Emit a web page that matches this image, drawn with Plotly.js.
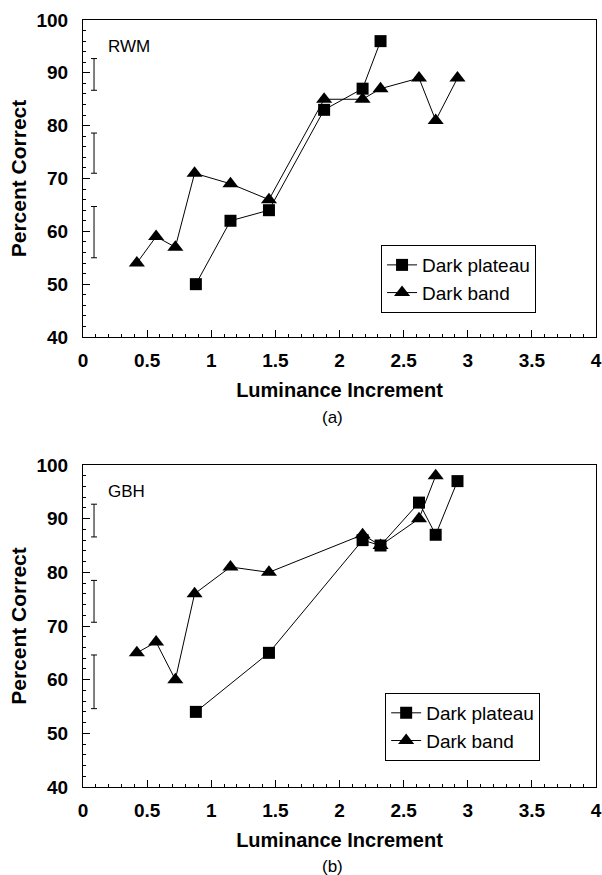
<!DOCTYPE html>
<html>
<head>
<meta charset="utf-8">
<script src="https://cdn.plot.ly/plotly-3.0.1.min.js"></script>
<style>html,body{margin:0;padding:0;background:#fff;}#chart{width:602px;height:875px;}</style>
</head>
<body>
<div id="chart"></div>
<script>
// ---- data ----
const seriesNames = ["Dark plateau", "Dark band"];

// panel (a) RWM
const rwmPlateauX = [0.88, 1.15, 1.45, 1.88, 2.18, 2.32];
const rwmPlateauY = [50, 62, 64, 83, 87, 96];
const rwmBandX = [0.42, 0.57, 0.72, 0.87, 1.15, 1.45, 1.88, 2.18, 2.32, 2.62, 2.75, 2.92];
const rwmBandY = [54, 59, 57, 71, 69, 66, 85, 85, 87, 89, 81, 89];

// panel (b) GBH
const gbhPlateauX = [0.88, 1.45, 2.18, 2.32, 2.62, 2.75, 2.92];
const gbhPlateauY = [54, 65, 86, 85, 93, 87, 97];
const gbhBandX = [0.42, 0.57, 0.72, 0.87, 1.15, 1.45, 2.18, 2.32, 2.62, 2.75];
const gbhBandY = [65, 67, 60, 76, 81, 80, 87, 85, 90, 98];

// representative error bars at left of each panel
const errX = [0.086, 0.086, 0.086];
const rwmErrCenter = [89.7, 74.8, 59.85];
const rwmErrHalf = [3.0, 3.8, 4.85];
const gbhErrCenter = [89.65, 74.6, 59.6];
const gbhErrHalf = [3.05, 3.9, 5.0];

const xTickVals = [0, 0.5, 1, 1.5, 2, 2.5, 3, 3.5, 4];
const xTickText = ["0", "0.5", "1", "1.5", "2", "2.5", "3", "3.5", "4"];
const yTickVals = [40, 50, 60, 70, 80, 90, 100];

const panelLabels = ["RWM", "GBH"];
const panelCaptions = ["(a)", "(b)"];
const xTitle = "Luminance Increment";
const yTitle = "Percent Correct";

// ---- styling ----
const FONT = "Liberation Sans, Arial, Helvetica, sans-serif";
const lineStyle = {color: "black", width: 1};

function seriesTrace(x, y, name, symbol, size, xa, ya, legend, show) {
  return {
    x: x, y: y, name: name, type: "scatter", mode: "lines+markers",
    line: lineStyle,
    marker: {symbol: symbol, size: size, color: "black", line: {width: 0}},
    xaxis: xa, yaxis: ya, legend: legend, showlegend: show
  };
}
function errTrace(center, half, xa, ya) {
  return {
    x: errX, y: center, type: "scatter", mode: "markers",
    marker: {size: 1, color: "rgba(0,0,0,0)"},
    error_y: {type: "data", array: half, visible: true, color: "black", thickness: 1, width: 3},
    xaxis: xa, yaxis: ya, showlegend: false, hoverinfo: "skip"
  };
}

const data = [
  errTrace(rwmErrCenter, rwmErrHalf, "x", "y"),
  seriesTrace(rwmPlateauX, rwmPlateauY, seriesNames[0], "square", 12, "x", "y", "legend", true),
  seriesTrace(rwmBandX, rwmBandY, seriesNames[1], "triangle-up", 14, "x", "y", "legend", true),
  errTrace(gbhErrCenter, gbhErrHalf, "x2", "y2"),
  seriesTrace(gbhPlateauX, gbhPlateauY, seriesNames[0], "square", 12, "x2", "y2", "legend2", true),
  seriesTrace(gbhBandX, gbhBandY, seriesNames[1], "triangle-up", 14, "x2", "y2", "legend2", true)
];

function xAxis(anchor) {
  return {
    anchor: anchor, domain: [0, 1], range: [0, 4],
    tickmode: "array", tickvals: xTickVals, ticktext: xTickText,
    ticks: "inside", ticklen: 7, tickwidth: 1, tickcolor: "black",
    minor: {dtick: 0.1, ticks: "inside", ticklen: 3, tickwidth: 1, tickcolor: "black", showgrid: false},
    showline: true, linecolor: "black", linewidth: 1, mirror: true,
    showgrid: false, zeroline: false,
    tickfont: {family: FONT, size: 19, weight: "bold", color: "black"},
    ticklabelstandoff: 6,
    title: {text: xTitle, standoff: 13, font: {family: FONT, size: 20, weight: "bold", color: "black"}}
  };
}
function yAxis(anchor, domain) {
  return {
    anchor: anchor, domain: domain, range: [40, 100],
    tickmode: "array", tickvals: yTickVals,
    ticks: "inside", ticklen: 7, tickwidth: 1, tickcolor: "black",
    minor: {dtick: 2, ticks: "inside", ticklen: 3, tickwidth: 1, tickcolor: "black", showgrid: false},
    showline: true, linecolor: "black", linewidth: 1, mirror: true,
    showgrid: false, zeroline: false,
    tickfont: {family: FONT, size: 19, weight: "bold", color: "black"},
    ticklabelstandoff: 10,
    title: {text: yTitle, standoff: 4, font: {family: FONT, size: 21, weight: "bold", color: "black"}}
  };
}
function legendBox(x, y) {
  return {
    x: x, y: y, xanchor: "left", yanchor: "top",
    bgcolor: "white", bordercolor: "black", borderwidth: 1,
    font: {family: FONT, size: 19, color: "black"},
    tracegroupgap: 0
  };
}
function ann(text, x, y, size, weight, xanchor) {
  return {text: text, x: x, y: y, xref: "paper", yref: "paper", showarrow: false,
    xanchor: xanchor, yanchor: "middle",
    font: {family: FONT, size: size, weight: weight, color: "black"}};
}

const layout = {
  width: 602, height: 875,
  margin: {l: 83, r: 6, t: 20, b: 88},
  paper_bgcolor: "white", plot_bgcolor: "white",
  xaxis: xAxis("y"),
  yaxis: yAxis("x", [0.5867, 1]),
  xaxis2: xAxis("y2"),
  yaxis2: yAxis("x2", [0, 0.4198]),
  legend: legendBox(0.581, 0.7066),
  legend2: legendBox(0.589, 0.1226),
  annotations: [
    ann(panelLabels[0], 0.0448, 0.9661, 17, "normal", "left"),
    ann(panelLabels[1], 0.0448, 0.3859, 17, "normal", "left"),
    ann(panelCaptions[0], 0.4873, (787 - 417) / 767, 17, "normal", "center"),
    ann(panelCaptions[1], 0.4873, (787 - 867) / 767, 17, "normal", "center")
  ]
};

Plotly.newPlot("chart", data, layout, {staticPlot: true, displayModeBar: false});
</script>
</body>
</html>
